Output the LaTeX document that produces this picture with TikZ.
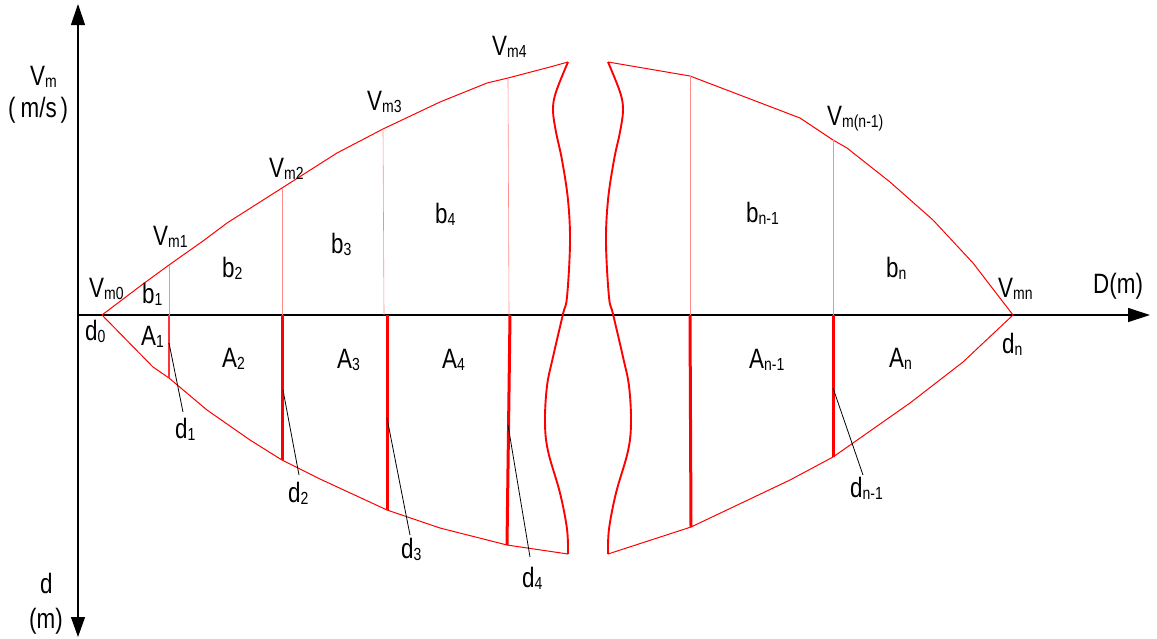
\documentclass[tikz,border=0pt]{standalone}
\usepackage{fontspec}
\setmainfont{Liberation Sans}[FakeStretch=0.8]
\usetikzlibrary{arrows.meta}
\newcommand\lsub[1]{\raisebox{-2.5pt}{\fontsize{17.5}{17.5}\selectfont #1}}
\begin{document}
\begin{tikzpicture}[x=1pt,y=-1pt,
  lbl/.style={font=\fontsize{28}{30}\selectfont, inner sep=0pt, anchor=base west},
  curve/.style={red, line width=1pt, line join=round},
  wave/.style={red, line width=1.9pt},
  strip/.style={red, line width=3pt},
  thinstrip/.style={red!80, line width=1.4pt},
  guide/.style={red!45, line width=0.6pt},
  leader/.style={black, line width=0.8pt},
  axis/.style={black, line width=1.2pt}]
\useasboundingbox (0,0) rectangle (1157,638);

% axes
\coordinate (yTop) at (78,4);
\coordinate (yBot) at (78,637);
\coordinate (O) at (78,315);
\coordinate (xEnd) at (1150,315);
\draw[axis, {Triangle[length=21pt,width=14pt]}-{Triangle[length=20pt,width=14pt]}] (yTop) -- (yBot);
\draw[axis, -{Triangle[length=22pt,width=14pt]}] (O) -- (xEnd);

% key points
\coordinate (d0) at (102,315);
\coordinate (dn) at (1013,315);
\coordinate (U1) at (169,265);
\coordinate (U2) at (282,188);
\coordinate (U3) at (383,129);
\coordinate (U4) at (508,78);
\coordinate (UL) at (568,62);
\coordinate (UR) at (608,62);
\coordinate (U5) at (690,76);
\coordinate (U6) at (833,140);
\coordinate (L1) at (169,378);
\coordinate (L2) at (282,460);
\coordinate (L3) at (387,510);
\coordinate (L4) at (507,545);
\coordinate (LL) at (568,554);
\coordinate (LR) at (608,554);
\coordinate (L5) at (691,527);
\coordinate (L6) at (833,457);

% upper curve
\draw[curve] (d0) -- (143,284) -- (U1) -- (203,241) -- (227,223) -- (U2) -- (337,153) -- (U3)
  -- (440,102) -- (487,83) -- (U4) -- (550,67) -- (UL);
\draw[curve] (UR) -- (U5) -- (800,118) -- (U6) -- (847,148) -- (890,182) -- (933,220) -- (973,263) -- (dn);
% lower curve
\draw[curve] (d0) -- (153,367) -- (L1) -- (207,410) -- (250,440) -- (L2) -- (320,479) -- (L3)
  -- (440,528) -- (L4) -- (LL);
\draw[curve] (LR) -- (L5) -- (790,480) -- (L6) -- (853,443) -- (910,403) -- (963,362) -- (dn);

% wavy break lines
\draw[wave] plot[smooth, tension=0.6] coordinates {(568,62) (556,92) (553,110) (556,132) (562,160) (568,200) (570,243)
  (567,297) (563,314) (553,357) (547,386) (545,422) (548,451) (560,493) (567,529) (568,554)};
\draw[wave] plot[smooth, tension=0.6] coordinates {(608,62) (620,92) (623,110) (620,132) (614,160) (608,200) (606,243)
  (609,297) (613,314) (623,357) (629,386) (631,422) (628,451) (616,493) (609,529) (608,554)};

% guides above axis
\draw[guide] (U1) -- (169,315);
\draw[guide] (U2) -- (282,315);
\draw[guide] (U3) -- (384,315);
\draw[guide] (U4) -- (509,315);
\draw[guide] (U5) -- (690,315);
\draw[guide] (U6) -- (833,315);

% strips below axis
\draw[thinstrip] (169,315) -- (L1);
\draw[strip] (282,315) -- (L2);
\draw[strip] (387,315) -- (L3);
\draw[strip] (510,315) -- (L4);
\draw[strip] (690,315) -- (L5);
\draw[strip] (833,315) -- (L6);

% labels
\node[lbl] (vm) at (30,85) {V\lsub{m}};
\node[lbl] (vms) at (8,117) {(\hspace{5pt}m/s\hspace{4pt})};
\node[lbl] (dax) at (40,593) {d};
\node[lbl] (dm) at (29,628) {(m)};
\node[lbl] (Dm) at (1093,293) {D(m)};

\node[lbl] (vm0) at (89,297) {V\lsub{m0}};
\node[lbl] (vm1) at (153,245) {V\lsub{m1}};
\node[lbl] (vm2) at (269,177) {V\lsub{m2}};
\node[lbl] (vm3) at (367,110) {V\lsub{m3}};
\node[lbl] (vm4) at (492,55) {V\lsub{m4}};
\node[lbl] (vmn1) at (827,125) {V\lsub{m(n-1)}};
\node[lbl] (vmn) at (998,297) {V\lsub{mn}};

\node[lbl] (b1) at (142,303) {b\lsub{1}};
\node[lbl] (b2) at (222,277) {b\lsub{2}};
\node[lbl] (b3) at (331,253) {b\lsub{3}};
\node[lbl] (b4) at (435,223) {b\lsub{4}};
\node[lbl] (bn1) at (746,222) {b\lsub{n-1}};
\node[lbl] (bn) at (886,277) {b\lsub{n}};

\node[lbl] (A1) at (141,345) {A\lsub{1}};
\node[lbl] (A2) at (222,367) {A\lsub{2}};
\node[lbl] (A3) at (337,368) {A\lsub{3}};
\node[lbl] (A4) at (442,368) {A\lsub{4}};
\node[lbl] (An1) at (749,368) {A\lsub{n-1}};
\node[lbl] (An) at (889,367) {A\lsub{n}};

\node[lbl] (dd0) at (85,340) {d\lsub{0}};
\node[lbl] (ddn) at (1002,353) {d\lsub{n}};
\node[lbl] (dd1) at (175,438) {d\lsub{1}};
\node[lbl] (dd2) at (288,502) {d\lsub{2}};
\node[lbl] (dd3) at (401,558) {d\lsub{3}};
\node[lbl] (dd4) at (522,587) {d\lsub{4}};
\node[lbl] (ddn1) at (850,497) {d\lsub{n-1}};

% leaders
\coordinate (k1) at (169,343); \coordinate (e1) at (183,412);
\coordinate (k2) at (283,390); \coordinate (e2) at (299,475);
\coordinate (k3) at (387,418); \coordinate (e3) at (410,535);
\coordinate (k4) at (508,425); \coordinate (e4) at (530,557);
\coordinate (k5) at (833,388); \coordinate (e5) at (863,475);
\draw[leader] (k1) -- (e1);
\draw[leader] (k2) -- (e2);
\draw[leader] (k3) -- (e3);
\draw[leader] (k4) -- (e4);
\draw[leader] (k5) -- (e5);
\end{tikzpicture}
\end{document}
